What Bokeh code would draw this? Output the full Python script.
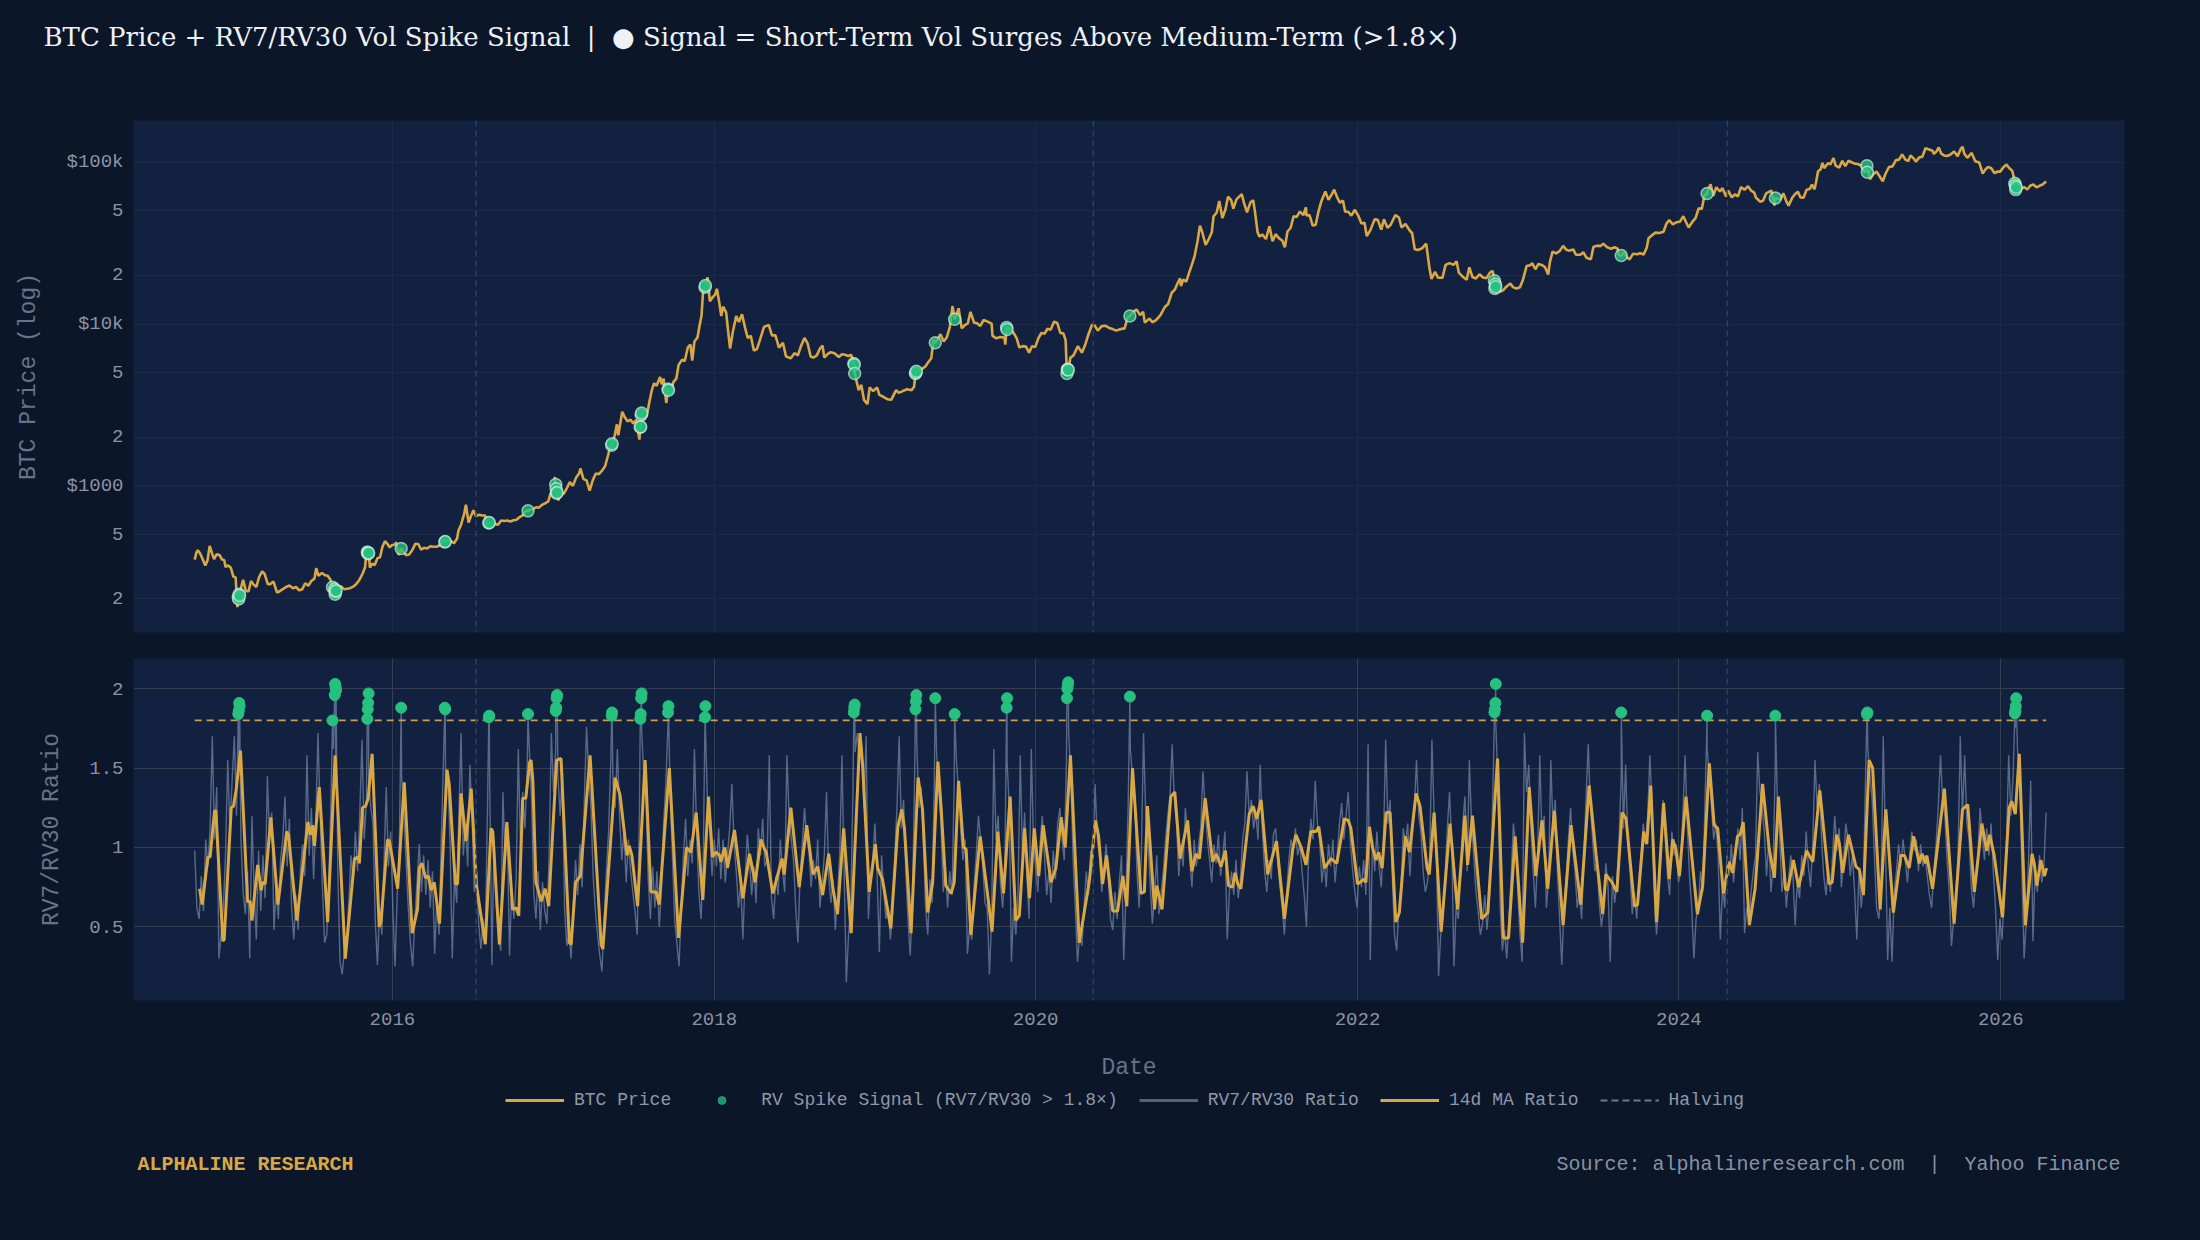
import numpy as np
import pandas as pd
from bokeh.plotting import figure
from bokeh.layouts import column
from bokeh.models import (ColumnDataSource, Range1d, FixedTicker, Span, Label, Title,
                          Legend, LegendItem)
from bokeh.embed import file_html
from bokeh.resources import INLINE

# ---------------------------------------------------------------- data
series_start = "2014-10-09"

price_2014 = [("2014-10-09", 350), ("2014-10-13", 388), ("2014-10-16", 400), ("2014-10-21", 383),
              ("2014-10-26", 358), ("2014-11-02", 322), ("2014-11-07", 345), ("2014-11-12", 425),
              ("2014-11-17", 385), ("2014-11-22", 352), ("2014-11-28", 378), ("2014-12-05", 372),
              ("2014-12-10", 350), ("2014-12-15", 348), ("2014-12-18", 315), ("2014-12-24", 322),
              ("2014-12-30", 312)]
price_2015 = [("2015-01-05", 274), ("2015-01-10", 272), ("2015-01-14", 178), ("2015-01-22", 233),
              ("2015-01-27", 262), ("2015-02-02", 226), ("2015-02-08", 222), ("2015-02-14", 258),
              ("2015-02-20", 245), ("2015-02-26", 237), ("2015-03-04", 272), ("2015-03-11", 296),
              ("2015-03-17", 285), ("2015-03-24", 247), ("2015-03-30", 247), ("2015-04-06", 256),
              ("2015-04-14", 219), ("2015-04-20", 223), ("2015-04-27", 230), ("2015-05-05", 237),
              ("2015-05-12", 242), ("2015-05-20", 233), ("2015-05-27", 237), ("2015-06-03", 226),
              ("2015-06-10", 229), ("2015-06-17", 250), ("2015-06-24", 241), ("2015-07-01", 258),
              ("2015-07-08", 267), ("2015-07-12", 310), ("2015-07-17", 278), ("2015-07-25", 289),
              ("2015-08-01", 280), ("2015-08-07", 278), ("2015-08-13", 264), ("2015-08-20", 226),
              ("2015-08-30", 229), ("2015-09-06", 240), ("2015-09-13", 230), ("2015-09-20", 231),
              ("2015-09-27", 233), ("2015-10-04", 238), ("2015-10-11", 247), ("2015-10-18", 262),
              ("2015-10-25", 285), ("2015-10-31", 314), ("2015-11-02", 360), ("2015-11-03", 403),
              ("2015-11-11", 312), ("2015-11-16", 330), ("2015-11-22", 324), ("2015-11-28", 357),
              ("2015-12-04", 362), ("2015-12-09", 417), ("2015-12-15", 455), ("2015-12-20", 440),
              ("2015-12-26", 416), ("2015-12-31", 430)]
price_2016 = [("2016-01-05", 432), ("2016-01-10", 447), ("2016-01-15", 375), ("2016-01-18", 387),
              ("2016-01-26", 392), ("2016-02-01", 373), ("2016-02-08", 376), ("2016-02-15", 400),
              ("2016-02-22", 438), ("2016-02-29", 436), ("2016-03-06", 404), ("2016-03-13", 414),
              ("2016-03-20", 410), ("2016-03-27", 423), ("2016-04-03", 420), ("2016-04-10", 420),
              ("2016-04-17", 428), ("2016-04-24", 460), ("2016-05-06", 460), ("2016-05-13", 455),
              ("2016-05-20", 442), ("2016-05-27", 473), ("2016-05-30", 528), ("2016-06-05", 575),
              ("2016-06-12", 670), ("2016-06-16", 765), ("2016-06-22", 593), ("2016-06-27", 646),
              ("2016-07-03", 705), ("2016-07-09", 650), ("2016-07-16", 663), ("2016-07-23", 655),
              ("2016-07-30", 655), ("2016-08-02", 548), ("2016-08-04", 578), ("2016-08-14", 570),
              ("2016-08-21", 580), ("2016-08-28", 574), ("2016-09-04", 610), ("2016-09-11", 606),
              ("2016-09-18", 610), ("2016-09-25", 602), ("2016-10-02", 612), ("2016-10-09", 617),
              ("2016-10-16", 641), ("2016-10-23", 657), ("2016-10-30", 700), ("2016-11-08", 711),
              ("2016-11-15", 714), ("2016-11-22", 737), ("2016-11-29", 733), ("2016-12-06", 763),
              ("2016-12-13", 780), ("2016-12-20", 800), ("2016-12-25", 892), ("2016-12-30", 960)]
price_2017 = [("2017-01-03", 1033), ("2017-01-04", 1135), ("2017-01-12", 812), ("2017-01-17", 905),
              ("2017-01-24", 890), ("2017-01-31", 965), ("2017-02-07", 1054), ("2017-02-14", 1000),
              ("2017-02-21", 1120), ("2017-02-28", 1190), ("2017-03-03", 1280), ("2017-03-10", 1100),
              ("2017-03-17", 1080), ("2017-03-24", 935), ("2017-03-31", 1080), ("2017-04-07", 1190),
              ("2017-04-14", 1180), ("2017-04-21", 1240), ("2017-04-28", 1320), ("2017-05-05", 1550),
              ("2017-05-10", 1760), ("2017-05-20", 2050), ("2017-05-25", 2400), ("2017-05-28", 2050),
              ("2017-06-06", 2870), ("2017-06-12", 2650), ("2017-06-18", 2500), ("2017-06-25", 2560),
              ("2017-07-01", 2430), ("2017-07-08", 2560), ("2017-07-15", 1930), ("2017-07-25", 2550),
              ("2017-08-01", 2720), ("2017-08-06", 3230), ("2017-08-12", 3880), ("2017-08-17", 4300),
              ("2017-08-23", 4150), ("2017-08-31", 4700), ("2017-09-04", 4230), ("2017-09-08", 4600),
              ("2017-09-14", 3250), ("2017-09-24", 3670), ("2017-09-30", 4360), ("2017-10-07", 4610),
              ("2017-10-12", 5590), ("2017-10-20", 6010), ("2017-10-26", 5900), ("2017-11-02", 7160),
              ("2017-11-08", 7460), ("2017-11-12", 5950), ("2017-11-17", 7800), ("2017-11-24", 8250),
              ("2017-11-29", 9900), ("2017-12-03", 11200), ("2017-12-07", 16400), ("2017-12-17", 19400),
              ("2017-12-22", 13800), ("2017-12-28", 14600)]
price_2018 = [("2018-01-03", 15200), ("2018-01-07", 16500), ("2018-01-12", 13800), ("2018-01-17", 11200),
              ("2018-01-21", 12800), ("2018-01-28", 11800), ("2018-02-02", 8800), ("2018-02-06", 7050),
              ("2018-02-12", 8900), ("2018-02-20", 11200), ("2018-02-26", 10300), ("2018-03-05", 11500),
              ("2018-03-12", 9500), ("2018-03-18", 8200), ("2018-03-25", 8450), ("2018-04-01", 6850),
              ("2018-04-08", 7000), ("2018-04-15", 8000), ("2018-04-24", 9600), ("2018-05-05", 9850),
              ("2018-05-12", 8500), ("2018-05-20", 8500), ("2018-05-28", 7150), ("2018-06-06", 7650),
              ("2018-06-13", 6300), ("2018-06-24", 6150), ("2018-07-02", 6600), ("2018-07-10", 6400),
              ("2018-07-17", 7300), ("2018-07-25", 8200), ("2018-08-01", 7600), ("2018-08-08", 6300),
              ("2018-08-14", 6200), ("2018-08-22", 6400), ("2018-08-29", 7050), ("2018-09-04", 7350),
              ("2018-09-08", 6200), ("2018-09-15", 6500), ("2018-09-22", 6700), ("2018-10-01", 6600),
              ("2018-10-11", 6250), ("2018-10-18", 6500), ("2018-10-25", 6450), ("2018-11-01", 6350),
              ("2018-11-08", 6450), ("2018-11-20", 4450), ("2018-11-25", 3900), ("2018-12-01", 4200),
              ("2018-12-07", 3400), ("2018-12-15", 3200), ("2018-12-20", 4050), ("2018-12-28", 3850)]
price_2019 = [("2019-01-06", 4050), ("2019-01-11", 3650), ("2019-01-20", 3550), ("2019-01-29", 3430),
              ("2019-02-07", 3400), ("2019-02-18", 3900), ("2019-02-24", 3750), ("2019-03-05", 3850),
              ("2019-03-15", 3950), ("2019-03-25", 3900), ("2019-03-31", 4100), ("2019-04-10", 5300),
              ("2019-04-17", 5250), ("2019-04-25", 5450), ("2019-05-02", 5800), ("2019-05-09", 6150),
              ("2019-05-14", 8000), ("2019-05-22", 7950), ("2019-05-30", 8650), ("2019-06-06", 7800),
              ("2019-06-13", 8250), ("2019-06-20", 9550), ("2019-06-26", 12900), ("2019-06-28", 12100),
              ("2019-07-04", 11200), ("2019-07-10", 12500), ("2019-07-17", 9400), ("2019-07-24", 9850),
              ("2019-07-31", 10100), ("2019-08-06", 11900), ("2019-08-14", 10200), ("2019-08-21", 10100),
              ("2019-08-28", 9700), ("2019-09-05", 10600), ("2019-09-15", 10300), ("2019-09-23", 10050),
              ("2019-09-25", 8450), ("2019-10-04", 8150), ("2019-10-12", 8300), ("2019-10-22", 8250),
              ("2019-10-24", 7450), ("2019-11-04", 9400), ("2019-11-12", 8800), ("2019-11-19", 8150),
              ("2019-11-25", 7150), ("2019-12-02", 7300), ("2019-12-10", 7250), ("2019-12-17", 6650),
              ("2019-12-24", 7300), ("2019-12-31", 7200)]
price_2020 = [("2020-01-07", 8150), ("2020-01-14", 8800), ("2020-01-21", 8700), ("2020-01-28", 9350),
              ("2020-02-04", 9200), ("2020-02-12", 10350), ("2020-02-19", 10150), ("2020-02-26", 8800),
              ("2020-03-04", 8750), ("2020-03-09", 7950), ("2020-03-20", 6200), ("2020-03-27", 6400),
              ("2020-04-06", 7300), ("2020-04-15", 6650), ("2020-04-23", 7500), ("2020-04-30", 8650),
              ("2020-05-08", 9900), ("2020-05-14", 9800), ("2020-05-21", 9100), ("2020-05-30", 9700),
              ("2020-06-08", 9750), ("2020-06-16", 9450), ("2020-06-24", 9300), ("2020-07-02", 9100),
              ("2020-07-12", 9300), ("2020-07-21", 9400), ("2020-07-28", 11000), ("2020-08-10", 11900),
              ("2020-08-17", 12300), ("2020-08-25", 11350), ("2020-09-01", 11900), ("2020-09-05", 10200),
              ("2020-09-15", 10800), ("2020-09-23", 10250), ("2020-10-01", 10600), ("2020-10-10", 11300),
              ("2020-10-21", 12800), ("2020-10-28", 13300), ("2020-11-05", 15600), ("2020-11-12", 16300),
              ("2020-11-18", 17800), ("2020-11-24", 19150), ("2020-11-26", 17150), ("2020-12-01", 18800),
              ("2020-12-08", 18300), ("2020-12-16", 21300), ("2020-12-22", 23800), ("2020-12-27", 26300)]
price_2021 = [("2021-01-03", 32800), ("2021-01-08", 40500), ("2021-01-13", 37300), ("2021-01-21", 30800),
              ("2021-01-28", 33400), ("2021-02-04", 36900), ("2021-02-08", 46300), ("2021-02-15", 48700),
              ("2021-02-21", 57500), ("2021-02-28", 45200), ("2021-03-07", 51000), ("2021-03-13", 61200),
              ("2021-03-20", 58300), ("2021-03-25", 51700), ("2021-04-01", 58900), ("2021-04-13", 63500),
              ("2021-04-18", 56200), ("2021-04-25", 49000), ("2021-05-03", 56600), ("2021-05-09", 58200),
              ("2021-05-13", 49700), ("2021-05-19", 37000), ("2021-05-23", 34700), ("2021-05-30", 35700),
              ("2021-06-07", 33500), ("2021-06-15", 40200), ("2021-06-22", 32500), ("2021-06-29", 35900),
              ("2021-07-07", 33800), ("2021-07-14", 32800), ("2021-07-20", 29800), ("2021-07-26", 37300),
              ("2021-08-02", 39200), ("2021-08-09", 46400), ("2021-08-16", 45900), ("2021-08-23", 49500),
              ("2021-08-31", 47100), ("2021-09-06", 52700), ("2021-09-07", 46800), ("2021-09-14", 47100),
              ("2021-09-21", 40700), ("2021-09-28", 41000), ("2021-10-04", 49100), ("2021-10-11", 57400),
              ("2021-10-20", 65900), ("2021-10-27", 58500), ("2021-11-03", 62900), ("2021-11-09", 67600),
              ("2021-11-16", 60400), ("2021-11-22", 56300), ("2021-11-29", 57800), ("2021-12-04", 49400),
              ("2021-12-11", 49400), ("2021-12-18", 46700), ("2021-12-26", 50800)]
price_2022 = [("2022-01-03", 46500), ("2022-01-10", 41800), ("2022-01-17", 42200), ("2022-01-22", 35000),
              ("2022-01-30", 37900), ("2022-02-09", 44400), ("2022-02-16", 44000), ("2022-02-24", 38300),
              ("2022-03-02", 44400), ("2022-03-10", 39400), ("2022-03-17", 40900), ("2022-03-28", 47100),
              ("2022-04-05", 45500), ("2022-04-11", 39500), ("2022-04-20", 41500), ("2022-04-30", 37700),
              ("2022-05-05", 36500), ("2022-05-11", 29000), ("2022-05-18", 28700), ("2022-05-28", 29400),
              ("2022-06-06", 31400), ("2022-06-13", 22500), ("2022-06-18", 19000), ("2022-06-26", 21000),
              ("2022-07-03", 19300), ("2022-07-13", 19300), ("2022-07-20", 23200), ("2022-07-29", 23800),
              ("2022-08-07", 23200), ("2022-08-14", 24400), ("2022-08-19", 20800), ("2022-08-28", 19600),
              ("2022-09-06", 18800), ("2022-09-12", 22400), ("2022-09-19", 19500), ("2022-09-27", 19100),
              ("2022-10-05", 20300), ("2022-10-13", 19400), ("2022-10-21", 19200), ("2022-10-29", 20800),
              ("2022-11-04", 21300), ("2022-11-15", 16900), ("2022-11-21", 15800), ("2022-11-28", 16200),
              ("2022-12-05", 17000), ("2022-12-14", 17800), ("2022-12-20", 16900), ("2022-12-28", 16550)]
price_2023 = [("2023-01-05", 16850), ("2023-01-12", 18850), ("2023-01-20", 22800), ("2023-01-28", 23100),
              ("2023-02-02", 23700), ("2023-02-09", 21800), ("2023-02-16", 23500), ("2023-02-25", 23100),
              ("2023-03-03", 22400), ("2023-03-10", 20200), ("2023-03-14", 24200), ("2023-03-20", 28000),
              ("2023-03-28", 27300), ("2023-04-05", 28200), ("2023-04-13", 30400), ("2023-04-20", 28800),
              ("2023-04-26", 28400), ("2023-05-06", 28900), ("2023-05-12", 26800), ("2023-05-22", 26800),
              ("2023-05-29", 27700), ("2023-06-05", 25700), ("2023-06-15", 25100), ("2023-06-21", 30000),
              ("2023-06-30", 30500), ("2023-07-07", 30300), ("2023-07-13", 31400), ("2023-07-22", 29800),
              ("2023-07-31", 29200), ("2023-08-08", 29800), ("2023-08-15", 29200), ("2023-08-17", 26600),
              ("2023-08-29", 27700), ("2023-09-05", 25800), ("2023-09-11", 25100), ("2023-09-19", 27200),
              ("2023-09-28", 27000), ("2023-10-05", 27400), ("2023-10-13", 26900), ("2023-10-20", 29700),
              ("2023-10-24", 33900), ("2023-11-01", 35400), ("2023-11-09", 36700), ("2023-11-18", 36500),
              ("2023-11-27", 37200), ("2023-12-04", 41900), ("2023-12-10", 43800), ("2023-12-18", 41300),
              ("2023-12-26", 42500)]
price_2024 = [("2024-01-03", 42800), ("2024-01-11", 46300), ("2024-01-17", 42700), ("2024-01-23", 39500),
              ("2024-01-31", 42600), ("2024-02-08", 45300), ("2024-02-15", 52000), ("2024-02-22", 51300),
              ("2024-02-28", 62500), ("2024-03-08", 68300), ("2024-03-13", 73100), ("2024-03-19", 62000),
              ("2024-03-26", 70000), ("2024-04-03", 65900), ("2024-04-09", 69100), ("2024-04-17", 61300),
              ("2024-04-22", 66800), ("2024-04-30", 60600), ("2024-05-07", 63200), ("2024-05-14", 61500),
              ("2024-05-21", 70100), ("2024-05-29", 67600), ("2024-06-06", 71100), ("2024-06-13", 66700),
              ("2024-06-20", 64900), ("2024-06-24", 60300), ("2024-07-04", 57000), ("2024-07-10", 57700),
              ("2024-07-17", 64100), ("2024-07-29", 66800), ("2024-08-05", 54000), ("2024-08-12", 59400),
              ("2024-08-19", 59000), ("2024-08-25", 64200), ("2024-09-01", 57300), ("2024-09-06", 53900),
              ("2024-09-14", 60000), ("2024-09-20", 63200), ("2024-09-27", 65800), ("2024-10-03", 60600),
              ("2024-10-10", 60300), ("2024-10-17", 67600), ("2024-10-24", 68200), ("2024-10-29", 72700),
              ("2024-11-04", 68000), ("2024-11-08", 76500), ("2024-11-12", 88000), ("2024-11-18", 90500),
              ("2024-11-22", 98900), ("2024-11-26", 91900), ("2024-12-05", 98800), ("2024-12-10", 96700),
              ("2024-12-17", 106100), ("2024-12-22", 95100), ("2024-12-30", 92600)]
price_2025 = [("2025-01-06", 102000), ("2025-01-13", 94500), ("2025-01-20", 102000), ("2025-01-27", 100000),
              ("2025-02-03", 98000), ("2025-02-10", 97400), ("2025-02-18", 95500), ("2025-02-25", 86200),
              ("2025-03-07", 87000), ("2025-03-10", 78500), ("2025-03-17", 84000), ("2025-03-25", 87500),
              ("2025-03-31", 82500), ("2025-04-08", 76300), ("2025-04-14", 84500), ("2025-04-22", 93400),
              ("2025-04-30", 94200), ("2025-05-08", 103000), ("2025-05-15", 103700), ("2025-05-22", 111500),
              ("2025-05-30", 103300), ("2025-06-05", 101600), ("2025-06-10", 110200), ("2025-06-18", 104800),
              ("2025-06-22", 100900), ("2025-06-30", 107100), ("2025-07-07", 108200), ("2025-07-14", 122000),
              ("2025-07-22", 119900), ("2025-07-30", 117800), ("2025-08-02", 112500), ("2025-08-08", 116700),
              ("2025-08-13", 123300), ("2025-08-19", 112900), ("2025-08-25", 110100), ("2025-09-01", 109200),
              ("2025-09-09", 111500), ("2025-09-17", 116500), ("2025-09-25", 109000), ("2025-10-02", 120600),
              ("2025-10-06", 124700), ("2025-10-10", 113200), ("2025-10-17", 106400), ("2025-10-27", 114100),
              ("2025-11-04", 101500), ("2025-11-13", 99700), ("2025-11-21", 85100), ("2025-11-28", 90900),
              ("2025-12-03", 93400), ("2025-12-10", 92000), ("2025-12-18", 85500), ("2025-12-25", 87600),
              ("2025-12-31", 87500)]
price_2026 = [("2026-01-06", 92500), ("2026-01-14", 96800), ("2026-01-20", 92000), ("2026-01-27", 88500),
              ("2026-01-31", 80000), ("2026-02-10", 69000), ("2026-02-16", 68500), ("2026-02-23", 70200),
              ("2026-03-02", 67800), ("2026-03-09", 71500), ("2026-03-16", 73000), ("2026-03-23", 69800),
              ("2026-03-30", 71500), ("2026-04-06", 72800), ("2026-04-14", 76000)]

# RV spike signal days: (date, RV7/RV30 ratio, BTC price)
spike_signals = [
    ("2015-01-16", 1.84, 205), ("2015-01-17", 1.86, 200), ("2015-01-18", 1.91, 214), ("2015-01-19", 1.89, 210),
    ("2015-08-18", 1.80, 236), ("2015-08-23", 1.96, 230), ("2015-08-24", 2.03, 214), ("2015-08-25", 2.01, 222),
    ("2015-08-26", 1.99, 225),
    ("2015-11-05", 1.81, 390), ("2015-11-06", 1.87, 385), ("2015-11-07", 1.91, 380), ("2015-11-08", 1.97, 385),
    ("2016-01-21", 1.88, 410),
    ("2016-04-29", 1.88, 449), ("2016-04-30", 1.87, 452),
    ("2016-08-07", 1.82, 590), ("2016-08-08", 1.83, 593),
    ("2016-11-04", 1.84, 700),
    ("2017-01-06", 1.86, 1020), ("2017-01-07", 1.88, 960), ("2017-01-08", 1.94, 900), ("2017-01-09", 1.96, 910),
    ("2017-05-13", 1.83, 1780), ("2017-05-14", 1.85, 1820),
    ("2017-07-17", 1.81, 2300), ("2017-07-18", 1.84, 2320), ("2017-07-19", 1.94, 2750), ("2017-07-20", 1.97, 2820),
    ("2017-09-18", 1.85, 3960), ("2017-09-19", 1.89, 3900),
    ("2017-12-11", 1.82, 16900), ("2017-12-12", 1.89, 17300),
    ("2018-11-14", 1.85, 5700), ("2018-11-15", 1.88, 5600), ("2018-11-16", 1.90, 4950),
    ("2019-04-03", 1.87, 4950), ("2019-04-04", 1.92, 5000), ("2019-04-05", 1.96, 5100),
    ("2019-05-18", 1.94, 7650),
    ("2019-07-01", 1.84, 10700),
    ("2019-10-27", 1.88, 9500), ("2019-10-28", 1.94, 9250),
    ("2020-03-12", 1.94, 4950), ("2020-03-13", 2.00, 5230), ("2020-03-14", 2.02, 5250), ("2020-03-15", 2.04, 5200),
    ("2020-08-02", 1.95, 11200),
    ("2022-11-08", 1.85, 18500), ("2022-11-09", 1.87, 16600), ("2022-11-10", 1.91, 17600), ("2022-11-11", 2.03, 17000),
    ("2023-08-23", 1.85, 26500),
    ("2024-03-05", 1.83, 64000),
    ("2024-08-07", 1.83, 60000),
    ("2025-03-03", 1.84, 95000), ("2025-03-04", 1.85, 86700),
    ("2026-02-02", 1.845, 74000), ("2026-02-03", 1.86, 71800), ("2026-02-04", 1.89, 67700), ("2026-02-05", 1.94, 70000),
]

# RV7/RV30 ratio, one reading every 5 days from series_start
rv_ratio_step_days = 5
rv_ratio_5d = [
    0.98, 0.62, 0.55, 0.82, 0.60, 1.05, 0.88, 1.12, 1.70, 1.05, 1.38, 0.30, 0.45, 0.62, 0.95, 1.55, 1.10, 1.42, 1.70, 1.20,
    1.45, 1.05, 0.72, 0.58, 0.85, 0.30, 1.20, 0.72, 0.42, 0.98, 0.60, 0.95, 0.68, 1.45, 1.05, 1.22, 0.48, 0.75, 0.55, 0.92,
    1.05, 1.32, 0.88, 1.18, 0.62, 0.42, 0.70, 0.48, 0.85, 1.02, 0.82, 1.58, 0.95, 1.25, 0.80, 1.15, 1.72, 1.20, 0.75, 0.40,
    0.45, 0.82, 1.35, 1.62, 1.55, 0.85, 0.28, 0.20, 0.35, 0.42, 0.65, 0.95, 0.78, 1.10, 0.85, 1.22, 1.68, 1.05, 1.30, 1.45,
    1.25, 1.15, 0.55, 0.26, 0.62, 0.45, 0.90, 1.38, 0.88, 1.10, 0.62, 0.25, 0.70, 1.05, 1.45, 1.20, 0.92, 0.62, 0.40, 0.25,
    0.55, 0.78, 1.02, 0.72, 0.95, 0.70, 0.92, 0.62, 0.85, 0.33, 0.68, 0.45, 1.05, 1.55, 1.35, 1.45, 1.02, 0.30, 0.82, 0.65,
    1.20, 1.72, 0.95, 1.15, 0.88, 1.52, 1.18, 0.72, 0.85, 0.52, 0.36, 0.55, 0.42, 1.25, 1.40, 0.26, 1.05, 0.62, 0.45, 0.35,
    1.35, 0.92, 1.10, 0.32, 0.75, 0.55, 0.80, 1.62, 0.98, 1.35, 1.12, 1.48, 1.62, 1.30, 0.72, 0.55, 0.85, 0.48, 0.78, 0.60,
    0.52, 0.95, 1.72, 1.35, 1.62, 1.45, 1.20, 1.50, 0.62, 0.38, 0.45, 0.30, 0.65, 0.92, 0.70, 1.02, 0.75, 1.30, 1.76, 1.45,
    1.25, 0.82, 0.60, 0.45, 0.32, 0.22, 0.55, 0.85, 1.10, 1.55, 1.40, 1.25, 1.62, 1.20, 0.92, 1.10, 0.78, 1.05, 0.85, 0.72,
    0.60, 0.45, 1.20, 1.75, 1.45, 1.30, 0.80, 0.55, 0.88, 0.62, 0.85, 0.50, 0.72, 1.15, 1.40, 1.78, 1.32, 0.95, 0.55, 0.40,
    0.25, 0.62, 0.95, 1.18, 0.82, 1.05, 0.90, 1.62, 1.10, 0.72, 0.55, 0.90, 1.75, 1.25, 1.10, 0.82, 1.05, 0.88, 1.12, 0.80,
    1.05, 0.78, 0.95, 1.12, 1.40, 1.02, 0.85, 0.62, 0.78, 0.42, 0.80, 1.08, 0.92, 0.70, 0.88, 0.65, 1.12, 0.95, 1.18, 0.88,
    0.92, 1.58, 0.68, 0.55, 0.82, 0.70, 1.05, 0.85, 0.72, 1.58, 1.20, 1.05, 0.92, 0.62, 0.40, 0.82, 1.02, 1.25, 1.05, 0.98,
    0.75, 0.92, 0.80, 1.05, 0.62, 0.78, 0.95, 1.35, 0.82, 0.65, 0.80, 0.48, 0.70, 0.95, 1.58, 0.85, 0.15, 0.45, 0.62, 1.35,
    1.60, 1.72, 1.55, 1.65, 1.25, 1.70, 0.55, 0.80, 0.92, 1.15, 0.82, 0.34, 0.95, 0.72, 0.55, 0.62, 0.42, 0.58, 0.95, 1.25,
    1.70, 1.12, 1.30, 0.85, 0.55, 0.32, 0.62, 1.42, 1.65, 1.25, 1.38, 1.05, 0.62, 0.45, 0.80, 0.65, 1.45, 1.60, 1.35, 1.15,
    0.72, 0.88, 0.62, 0.85, 0.70, 1.40, 1.55, 1.35, 1.10, 0.92, 1.05, 0.33, 0.50, 0.42, 0.75, 0.95, 1.20, 1.05, 0.88, 0.65,
    0.62, 0.20, 0.55, 1.62, 1.05, 1.20, 0.78, 0.62, 0.85, 1.55, 1.25, 0.28, 0.62, 0.45, 0.72, 1.58, 0.95, 1.22, 0.82, 0.55,
    1.62, 1.05, 0.88, 0.72, 1.02, 1.20, 0.95, 0.70, 0.85, 0.65, 0.98, 0.80, 1.15, 1.25, 1.05, 0.92, 1.55, 1.72, 1.45, 0.92,
    0.62, 0.28, 0.45, 0.38, 0.62, 0.85, 0.70, 0.98, 0.88, 1.40, 1.05, 0.95, 0.72, 0.85, 1.02, 0.80, 0.55, 0.48, 0.72, 0.55,
    0.78, 0.95, 0.29, 0.70, 1.25, 1.62, 1.45, 1.30, 0.85, 0.62, 0.95, 1.72, 1.20, 1.05, 0.78, 0.52, 0.70, 0.95, 0.58, 0.72,
    0.85, 1.05, 1.20, 1.32, 1.65, 1.30, 1.15, 0.82, 1.02, 0.88, 1.25, 1.10, 0.92, 0.75, 1.05, 0.88, 1.02, 1.12, 1.48, 1.25,
    1.05, 0.92, 0.78, 1.02, 0.90, 1.08, 0.82, 0.95, 1.10, 0.42, 0.72, 0.85, 0.70, 0.92, 0.68, 0.80, 1.05, 1.15, 1.48, 1.20,
    1.30, 1.12, 1.22, 1.05, 1.52, 1.10, 0.85, 0.72, 0.92, 0.80, 1.08, 1.12, 0.90, 0.75, 0.62, 0.45, 0.70, 0.92, 1.05, 0.98,
    1.12, 0.95, 1.02, 0.85, 0.70, 0.50, 0.95, 1.18, 1.05, 1.42, 1.15, 1.05, 0.78, 0.92, 0.75, 1.02, 0.88, 1.05, 0.78, 0.95,
    1.15, 1.28, 1.05, 1.20, 1.35, 1.02, 0.85, 0.72, 0.62, 0.88, 0.75, 0.92, 0.70, 1.65, 0.29, 1.05, 0.85, 1.10, 0.88, 0.75,
    1.05, 1.68, 1.15, 1.30, 0.82, 0.45, 0.35, 0.62, 0.75, 1.12, 1.02, 1.15, 0.82, 1.05, 1.25, 1.55, 1.20, 1.10, 0.85, 0.72,
    0.78, 0.95, 1.68, 1.20, 1.05, 0.19, 0.45, 0.55, 0.82, 1.12, 1.35, 1.02, 0.25, 0.62, 0.55, 0.82, 1.15, 1.32, 0.85, 1.55,
    1.15, 0.95, 0.72, 0.60, 0.45, 0.52, 0.70, 0.48, 0.65, 0.92, 1.55, 1.78, 1.40, 0.62, 0.35, 0.48, 0.30, 0.55, 0.82, 1.15,
    1.02, 0.72, 0.45, 0.28, 1.72, 1.35, 1.52, 1.10, 0.85, 0.62, 0.95, 1.58, 1.05, 1.20, 0.62, 0.80, 1.55, 1.12, 1.30, 0.85,
    0.55, 0.26, 0.62, 0.80, 1.05, 1.25, 0.98, 0.85, 0.62, 0.72, 0.55, 0.95, 1.30, 1.65, 1.25, 1.05, 0.85, 0.92, 0.65, 0.50,
    0.62, 0.90, 0.75, 0.28, 0.82, 0.65, 0.78, 1.05, 1.45, 1.12, 1.52, 1.02, 0.85, 0.58, 0.72, 0.55, 0.80, 0.95, 1.15, 1.02,
    1.20, 1.58, 1.25, 0.72, 0.45, 0.62, 0.95, 1.30, 1.05, 0.82, 0.70, 1.10, 0.95, 1.02, 0.78, 0.85, 1.22, 1.58, 1.15, 0.82,
    0.62, 0.30, 0.55, 0.62, 0.85, 0.72, 1.25, 1.62, 1.45, 1.25, 1.05, 1.15, 0.95, 0.42, 0.75, 0.62, 0.95, 0.82, 1.02, 0.78,
    0.95, 1.12, 0.92, 1.25, 0.46, 0.62, 0.55, 0.72, 0.85, 0.95, 1.60, 1.35, 1.25, 1.10, 0.82, 1.05, 0.72, 0.88, 1.55, 1.25,
    1.05, 0.72, 0.85, 0.62, 0.80, 0.95, 0.82, 0.51, 0.78, 0.68, 0.95, 0.82, 1.10, 0.88, 0.75, 1.02, 1.55, 1.25, 1.40, 1.05,
    0.82, 0.70, 0.88, 0.72, 0.95, 1.20, 0.98, 1.12, 0.75, 0.92, 1.15, 1.05, 0.82, 0.95, 0.72, 0.42, 0.85, 0.62, 0.78, 1.45,
    1.62, 1.45, 1.30, 0.95, 0.62, 0.55, 0.72, 1.70, 1.05, 0.29, 0.62, 0.28, 0.72, 0.85, 1.02, 0.88, 1.05, 0.92, 0.78, 0.95,
    1.10, 0.98, 1.05, 0.85, 1.02, 0.88, 0.95, 0.82, 0.70, 0.62, 0.85, 1.02, 1.25, 1.58, 1.30, 1.20, 0.92, 0.72, 0.38, 0.55,
    0.72, 0.95, 1.70, 1.20, 1.58, 1.15, 1.05, 0.75, 0.62, 0.80, 0.95, 1.25, 1.08, 0.92, 1.12, 0.95, 1.15, 0.85, 0.62, 0.29,
    0.55, 0.42, 0.72, 1.05, 1.58, 1.20, 1.45, 1.75, 1.62, 1.40, 0.85, 0.30, 0.55, 0.92, 1.42, 0.41, 0.85, 0.72, 0.95, 0.78,
    0.88, 1.22,
]

# 14-day moving average of the ratio: (days after series_start, value)
ma14_points = [
    (11, .74), (17, .64), (30, .94), (35, .94), (45, 1.23), (48, 1.23), (64, .41), (67, .42), (83, 1.25), (88, 1.26),
    (94, 1.36), (104, 1.61), (120, .66), (126, .66), (130, .54), (143, .89), (151, .73), (154, .78), (160, .77),
    (173, 1.19), (189, .64), (209, 1.10), (213, 1.08), (232, .54), (257, 1.16), (263, 1.08), (268, 1.14), (272, 1.01),
    (283, 1.38), (302, .53), (319, 1.58), (342, .30), (363, .93), (372, .94), (374, .90), (381, 1.25), (388, 1.26),
    (394, 1.31), (403, 1.59), (419, .50), (423, .53), (438, 1.05), (442, 1.04), (461, .74), (476, 1.41), (494, .46),
    (506, .61), (510, .87), (516, .90), (524, .81), (531, .82), (537, .73), (544, .78), (556, .52), (573, 1.49),
    (578, 1.40), (592, .77), (597, .77), (605, 1.34), (616, 1.04), (628, 1.37), (640, .76), (660, .39), (673, 1.12),
    (677, 1.10), (692, .39), (709, 1.16), (722, .61), (730, .62), (736, .57), (745, 1.31), (752, 1.31), (761, 1.54),
    (764, 1.55), (768, 1.42), (775, .78), (787, .66), (796, .74), (804, .63), (822, 1.55), (832, 1.56), (851, .40),
    (855, .39), (865, .78), (876, .82), (898, 1.58), (923, .39), (927, .36), (955, 1.44), (966, 1.33), (982, .95),
    (987, 1.01), (993, .95), (1006, .63), (1023, 1.55), (1036, .72), (1048, .72), (1055, .64), (1078, 1.50),
    (1099, .43), (1117, 1.00), (1127, .97), (1139, 1.22), (1154, .67), (1167, 1.32), (1176, .94), (1184, .97),
    (1192, .95), (1195, .91), (1204, 1.00), (1210, .87), (1226, 1.11), (1245, .68), (1260, .96), (1273, .78),
    (1286, 1.05), (1294, .99), (1298, .97), (1313, .71), (1334, .93), (1339, .83), (1354, 1.25), (1373, .75),
    (1390, 1.14), (1404, .83), (1415, .88), (1426, .70), (1440, .96), (1449, .75), (1460, .58), (1474, 1.12),
    (1491, .46), (1511, 1.72), (1517, 1.52), (1532, .72), (1546, 1.02), (1551, .87), (1562, .80), (1581, .49),
    (1597, 1.13), (1606, 1.24), (1612, 1.12), (1627, .46), (1643, 1.44), (1653, 1.24), (1665, .59), (1676, .78),
    (1688, 1.54), (1695, 1.26), (1706, .76), (1718, .71), (1725, .78), (1735, 1.42), (1746, 1.00), (1752, .99),
    (1763, .45), (1784, 1.07), (1801, .70), (1811, .47), (1824, 1.10), (1837, .71), (1852, 1.32), (1865, .54),
    (1873, .57), (1885, 1.12), (1896, .68), (1907, 1.12), (1917, .82), (1927, 1.14), (1945, .78), (1956, .87),
    (1968, 1.19), (1977, 1.00), (1989, 1.58), (2009, .40), (2032, .79), (2046, 1.17), (2053, 1.07), (2062, .77),
    (2071, .95), (2085, .60), (2096, .60), (2108, .82), (2117, .63), (2130, 1.50), (2149, .71), (2157, .72),
    (2164, 1.26), (2180, .61), (2185, .76), (2197, .61), (2217, 1.32), (2226, 1.35), (2238, .93), (2255, 1.17),
    (2265, .85), (2274, .96), (2282, .93), (2295, 1.31), (2312, .91), (2320, .96), (2331, .88), (2341, .98),
    (2348, .76), (2357, .75), (2363, .84), (2369, .77), (2376, .74), (2395, 1.21), (2404, 1.26), (2412, 1.18),
    (2422, 1.30), (2437, .83), (2457, 1.04), (2475, .55), (2494, .99), (2501, 1.08), (2513, 1.00), (2524, .89),
    (2535, 1.10), (2547, 1.10), (2553, 1.13), (2566, .87), (2581, .93), (2594, .90), (2611, 1.18), (2620, 1.17),
    (2626, 1.12), (2641, .77), (2656, .80), (2660, .78), (2668, 1.13), (2675, 1.00), (2683, .92), (2689, .97),
    (2697, .87), (2706, 1.22), (2715, 1.22), (2728, .53), (2736, .59), (2750, 1.07), (2759, .97), (2774, 1.34),
    (2783, 1.26), (2799, .87), (2804, .83), (2815, 1.22), (2831, .47), (2851, 1.15), (2868, .61), (2885, 1.20),
    (2891, .89), (2902, 1.20), (2923, .55), (2937, .59), (2959, 1.56), (2972, .43), (2984, .43), (2999, 1.07),
    (3016, .40), (3031, 1.38), (3046, .82), (3060, 1.17), (3073, .74), (3088, 1.23), (3108, .51), (3126, 1.14),
    (3148, .64), (3167, 1.39), (3183, .95), (3198, .58), (3205, .83), (3219, .78), (3230, .72), (3242, 1.22),
    (3251, 1.18), (3270, .63), (3277, .64), (3291, 1.10), (3298, 1.02), (3307, 1.39), (3320, .53), (3336, 1.28),
    (3349, .80), (3357, 1.05), (3364, .99), (3372, .82), (3387, 1.32), (3413, .58), (3425, .76), (3440, 1.53),
    (3451, 1.14), (3459, 1.12), (3472, .71), (3485, .91), (3493, .84), (3504, 1.07), (3510, 1.08), (3517, 1.16),
    (3531, .51), (3544, .74), (3561, 1.40), (3576, .99), (3588, .81), (3597, 1.32), (3613, .74), (3618, .73),
    (3631, .92), (3643, .75), (3661, .98), (3675, .91), (3691, 1.36), (3712, .77), (3719, .78), (3729, 1.08),
    (3735, 1.03), (3743, .84), (3756, 1.08), (3773, .88), (3781, .86), (3790, .70), (3803, 1.55), (3811, 1.50),
    (3828, .61), (3841, 1.24), (3858, .59), (3875, .95), (3883, .95), (3894, .87), (3904, 1.07), (3917, .90),
    (3923, .96), (3931, .90), (3934, .95), (3947, .74), (3974, 1.37), (3996, .52), (4015, 1.24), (4027, 1.27),
    (4042, .72), (4059, 1.15), (4070, .98), (4077, 1.08), (4087, .95), (4106, .56), (4121, 1.25), (4127, 1.29),
    (4135, 1.21), (4144, 1.59), (4158, .51), (4173, .96), (4178, .90), (4184, .76), (4193, .92), (4201, .82),
    (4206, .87),
]

halving_dates = ["2016-07-09", "2020-05-11", "2024-04-20"]
spike_threshold = 1.8

year_ticks = ["2016-01-01", "2018-01-01", "2020-01-01", "2022-01-01", "2024-01-01", "2026-01-01"]
year_labels = ["2016", "2018", "2020", "2022", "2024", "2026"]
price_ticks = [200, 500, 1000, 2000, 5000, 10000, 20000, 50000, 100000]
price_tick_labels = ["2", "5", "$1000", "2", "5", "$10k", "2", "5", "$100k"]
ratio_ticks = [0.5, 1, 1.5, 2]
ratio_tick_labels = ["0.5", "1", "1.5", "2"]

SP2 = "\u00a0\u00a0"
TITLE = ("BTC Price + RV7/RV30 Vol Spike Signal" + SP2 + "|" + SP2 +
         "\u25cf Signal = Short-Term Vol Surges Above Medium-Term (>1.8\u00d7)")
BRAND = "ALPHALINE RESEARCH"
SOURCE = "Source: alphalineresearch.com" + SP2 + "|" + SP2 + "Yahoo Finance"

# ---------------------------------------------------------------- frames
t0 = pd.Timestamp(series_start)
sig = pd.DataFrame(spike_signals, columns=["date", "ratio", "price"])
sig["date"] = pd.to_datetime(sig["date"])

price_all = (price_2014 + price_2015 + price_2016 + price_2017 + price_2018 + price_2019 +
             price_2020 + price_2021 + price_2022 + price_2023 + price_2024 + price_2025 + price_2026)
px = pd.DataFrame(price_all, columns=["date", "price"])
px["date"] = pd.to_datetime(px["date"])
px = pd.concat([px, sig[["date", "price"]]]).sort_values("date")

rv = pd.DataFrame({"date": t0 + pd.to_timedelta(np.arange(len(rv_ratio_5d)) * rv_ratio_step_days, unit="D"),
                   "ratio": rv_ratio_5d})
rv = pd.concat([rv, sig[["date", "ratio"]]]).sort_values("date")

ma = pd.DataFrame(ma14_points, columns=["day", "ma"])
ma["date"] = t0 + pd.to_timedelta(ma["day"], unit="D")


def ms(s):
    return pd.Timestamp(s).value / 1e6


year_ms = [ms(s) for s in year_ticks]

# ---------------------------------------------------------------- style
W = 2200
LEFT, RIGHT = 133, 76
BG = "#0b1628"
PANEL = "#11213f"
GOLD = "#d9a844"
GREEN = "#27c17f"
GREY_LINE = "#7282a3"
TICK_C = "#8a93a5"
AXLAB_C = "#66738b"
MONO = "Liberation Mono"

xr = Range1d(start=pd.Timestamp("2014-05-23"), end=pd.Timestamp("2026-10-09"))


def style(p, grid_color):
    p.background_fill_color = PANEL
    p.border_fill_color = BG
    p.outline_line_color = None
    for ax in p.axis:
        ax.axis_line_color = None
        ax.major_tick_line_color = None
        ax.minor_tick_line_color = None
        ax.major_label_text_font = MONO
        ax.major_label_text_font_size = "19px"
        ax.major_label_text_color = TICK_C
        ax.axis_label_text_font = MONO
        ax.axis_label_text_font_size = "23px"
        ax.axis_label_text_font_style = "normal"
        ax.axis_label_text_color = AXLAB_C
    p.xgrid.grid_line_color = grid_color
    p.ygrid.grid_line_color = grid_color
    p.xgrid.ticker = FixedTicker(ticks=year_ms)


def blank(h, top=0):
    # frame aligned with the chart frames; data x equals page pixel x
    f = figure(width=W, height=h, x_range=Range1d(LEFT, W - RIGHT), y_range=Range1d(0, h - top),
               output_backend="svg", toolbar_location=None,
               min_border_left=LEFT, min_border_right=RIGHT, min_border_top=top, min_border_bottom=0,
               x_axis_location=None, y_axis_location=None)
    f.grid.visible = False
    f.background_fill_color = BG
    f.border_fill_color = BG
    f.outline_line_color = None
    return f


# header -----------------------------------------------------------------
HEAD_H = 120
head = blank(HEAD_H, top=62)
head.add_layout(Title(text=TITLE, align="left", offset=43 - LEFT, standoff=21,
                      text_font="DejaVu Serif", text_font_size="26px", text_font_style="normal",
                      text_color="#eef1f6"), "above")

# top panel ---------------------------------------------------------------
p1 = figure(width=W, height=525, x_axis_type="datetime", y_axis_type="log",
            x_range=xr, y_range=Range1d(124, 181000),
            output_backend="svg", toolbar_location=None,
            min_border_left=LEFT, min_border_right=RIGHT, min_border_top=0, min_border_bottom=13)
style(p1, "#1a2a47")
p1.xaxis.visible = False
p1.yaxis.ticker = FixedTicker(ticks=price_ticks)
p1.ygrid.ticker = FixedTicker(ticks=price_ticks)
p1.yaxis.major_label_overrides = dict(zip(price_ticks, price_tick_labels))
p1.yaxis.axis_label = "BTC Price (log)"
p1.yaxis.major_label_standoff = 4
p1.yaxis.axis_label_standoff = 21

for h in halving_dates:
    p1.add_layout(Span(location=ms(h), dimension="height", line_color="#2c4064",
                       line_dash="6 4", line_width=1.5))

p1.line(x="date", y="price", source=ColumnDataSource(px), line_color=GOLD, line_width=2.6)
p1.scatter(x="date", y="price", source=ColumnDataSource(sig), size=12, fill_color=GREEN,
           fill_alpha=0.8, line_color="#d5f2e6", line_alpha=0.65, line_width=1.5)

# bottom panel ------------------------------------------------------------
p2 = figure(width=W, height=445, x_axis_type="datetime",
            x_range=xr, y_range=Range1d(0.036, 2.19),
            output_backend="svg", toolbar_location=None,
            min_border_left=LEFT, min_border_right=RIGHT, min_border_top=13, min_border_bottom=90)
style(p2, "#363f50")
p2.xaxis.ticker = FixedTicker(ticks=year_ms)
p2.xaxis.major_label_overrides = dict(zip(year_ms, year_labels))
p2.xaxis.axis_label = "Date"
p2.xaxis.major_label_standoff = 6
p2.xaxis.axis_label_standoff = 27
p2.yaxis.ticker = FixedTicker(ticks=ratio_ticks)
p2.ygrid.ticker = FixedTicker(ticks=ratio_ticks)
p2.yaxis.major_label_overrides = dict(zip(ratio_ticks, ratio_tick_labels))
p2.yaxis.axis_label = "RV7/RV30 Ratio"
p2.yaxis.major_label_standoff = 4
p2.yaxis.axis_label_standoff = 21

for h in halving_dates:
    p2.add_layout(Span(location=ms(h), dimension="height", line_color="#2c4064",
                       line_dash="6 4", line_width=1.5))

p2.line(x="date", y="ratio", source=ColumnDataSource(rv), line_color=GREY_LINE,
        line_alpha=0.75, line_width=1.4)
p2.line(x="date", y="ma", source=ColumnDataSource(ma), line_color=GOLD, line_width=3)
p2.line(x=[rv["date"].min(), rv["date"].max()], y=[spike_threshold, spike_threshold],
        line_color="#c9a24a", line_dash="7 5", line_width=1.8)
p2.scatter(x="date", y="ratio", source=ColumnDataSource(sig), size=11, fill_color=GREEN,
           line_color=GREEN, fill_alpha=1.0)

# footer: legend + credits -------------------------------------------------
FOOT_H = 1240 - HEAD_H - 525 - 445
foot = blank(FOOT_H)
nan2 = [np.nan, np.nan]
lg_price = foot.line(x=[0, 1], y=nan2, line_color=GOLD, line_width=3)
lg_sig = foot.scatter(x=[0], y=[np.nan], size=10, fill_color=GREEN, fill_alpha=0.75,
                      line_color=GREEN, line_alpha=0.5)
lg_ratio = foot.line(x=[0, 1], y=nan2, line_color=GREY_LINE, line_width=3, line_alpha=0.7)
lg_ma = foot.line(x=[0, 1], y=nan2, line_color=GOLD, line_width=3)
lg_halv = foot.line(x=[0, 1], y=nan2, line_color="#6c7890", line_dash="7 4", line_width=2)
legend = Legend(items=[LegendItem(label="BTC Price", renderers=[lg_price]),
                       LegendItem(label="RV Spike Signal (RV7/RV30 > 1.8\u00d7)", renderers=[lg_sig]),
                       LegendItem(label="RV7/RV30 Ratio", renderers=[lg_ratio]),
                       LegendItem(label="14d MA Ratio", renderers=[lg_ma]),
                       LegendItem(label="Halving", renderers=[lg_halv])],
                orientation="horizontal", location=(503 - LEFT, FOOT_H - 22),
                glyph_width=59, glyph_height=20, label_standoff=10, spacing=21,
                padding=2, margin=0,
                background_fill_alpha=0, border_line_alpha=0,
                label_text_font=MONO, label_text_font_size="18px", label_text_color="#8f98a9")
foot.add_layout(legend)
foot.add_layout(Label(x=137, y=FOOT_H - 74, text=BRAND,
                      text_font=MONO, text_font_size="20px", text_font_style="bold",
                      text_color=GOLD, text_baseline="middle", text_align="left"))
foot.add_layout(Label(x=2120, y=FOOT_H - 74, text=SOURCE,
                      text_font=MONO, text_font_size="20px", text_color="#8892a3",
                      text_baseline="middle", text_align="right"))

layout = column(head, p1, p2, foot, spacing=0)
html = file_html(layout, INLINE, title="BTC RV spike signal")
html = html.replace("</head>",
                    "<style>html,body{margin:0;padding:0;background:#0b1628;}</style></head>", 1)
open("out.html", "w").write(html)
